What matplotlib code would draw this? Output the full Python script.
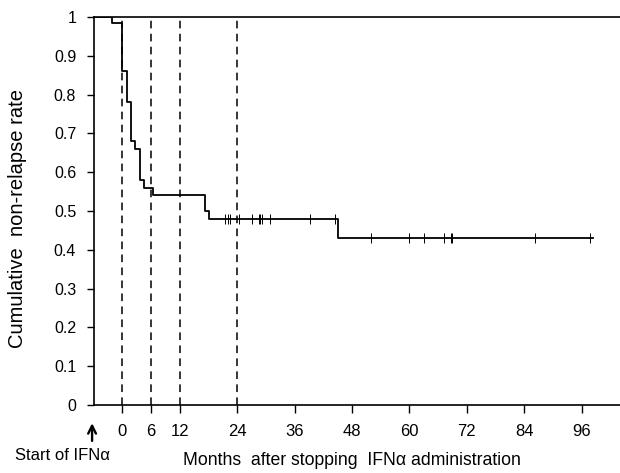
import matplotlib
matplotlib.use('Agg')
import matplotlib.pyplot as plt

plt.rcParams['font.family'] = ['Liberation Sans', 'DejaVu Sans']

# Kaplan-Meier steps (months after stopping IFNa, non-relapse rate)
step_months = [-6, -2.1, 0, 0.9, 1.8, 2.6, 3.8, 4.6, 6.5, 17.3, 18.2, 45.0, 98.3]
step_rate = [1.0, 0.985, 0.86, 0.78, 0.68, 0.66, 0.58, 0.56, 0.54, 0.50, 0.48, 0.43, 0.43]

# censored observations
cens_months_a = [21.5, 22.0, 22.5, 24.3, 27.1, 28.5, 28.8, 29.2, 30.9, 39.2, 44.4]
cens_months_b = [51.9, 60.0, 63.1, 67.2, 68.7, 69.0, 86.2, 97.7]
rate_a = 0.48
rate_b = 0.43

marker_months = [0, 6, 12, 24]
xticks = [0, 6, 12, 24, 36, 48, 60, 72, 84, 96]
yticks = [0, 0.1, 0.2, 0.3, 0.4, 0.5, 0.6, 0.7, 0.8, 0.9, 1]

fig = plt.figure(figsize=(6.2, 4.73), dpi=100)
ax = fig.add_axes([0.152, 0.144, 0.848, 0.82])

for m in marker_months:
    ax.plot([m, m], [0, 1], color='black', lw=1.1, ls=(0, (5, 3.5)))

ax.step(step_months, step_rate, where='post', color='black', lw=1.3)
ax.plot(cens_months_a, [rate_a] * len(cens_months_a), ls='none', marker='|',
        ms=7, mew=0.7, color='black')
ax.plot(cens_months_b, [rate_b] * len(cens_months_b), ls='none', marker='|',
        ms=7, mew=0.7, color='black')

ax.set_xlim(-5.85, 104)
ax.set_ylim(0, 1)
ax.spines['right'].set_visible(False)
for s in ['left', 'bottom', 'top']:
    ax.spines[s].set_linewidth(1.2)

ax.set_xticks(xticks)
ax.set_xticklabels([str(t) for t in xticks], fontsize=12)
ax.set_yticks(yticks)
ax.set_yticklabels([('%g' % t) for t in yticks], fontsize=11.5)
ax.tick_params(axis='x', direction='out', length=6, width=1, pad=8)
ax.tick_params(axis='y', direction='out', length=5, width=1, pad=8)
ax.tick_params(top=False)

fig.text(0.028, 0.539, 'Cumulative  non-relapse rate', fontsize=14.5,
         rotation=90, ha='center', va='center')
fig.text(0.568, 0.026, 'Months  after stopping  IFN\u03b1 administration',
         fontsize=12.7, ha='center', va='center')
fig.text(0.1, 0.038, 'Start of IFN\u03b1', fontsize=12, ha='center', va='center')
ax.annotate('', xy=(-6.3, -0.04), xytext=(-6.3, -0.1),
            xycoords='data', annotation_clip=False,
            arrowprops=dict(arrowstyle='->', color='black', lw=1.7,
                            mutation_scale=14))

fig.savefig('out.png', dpi=100)
